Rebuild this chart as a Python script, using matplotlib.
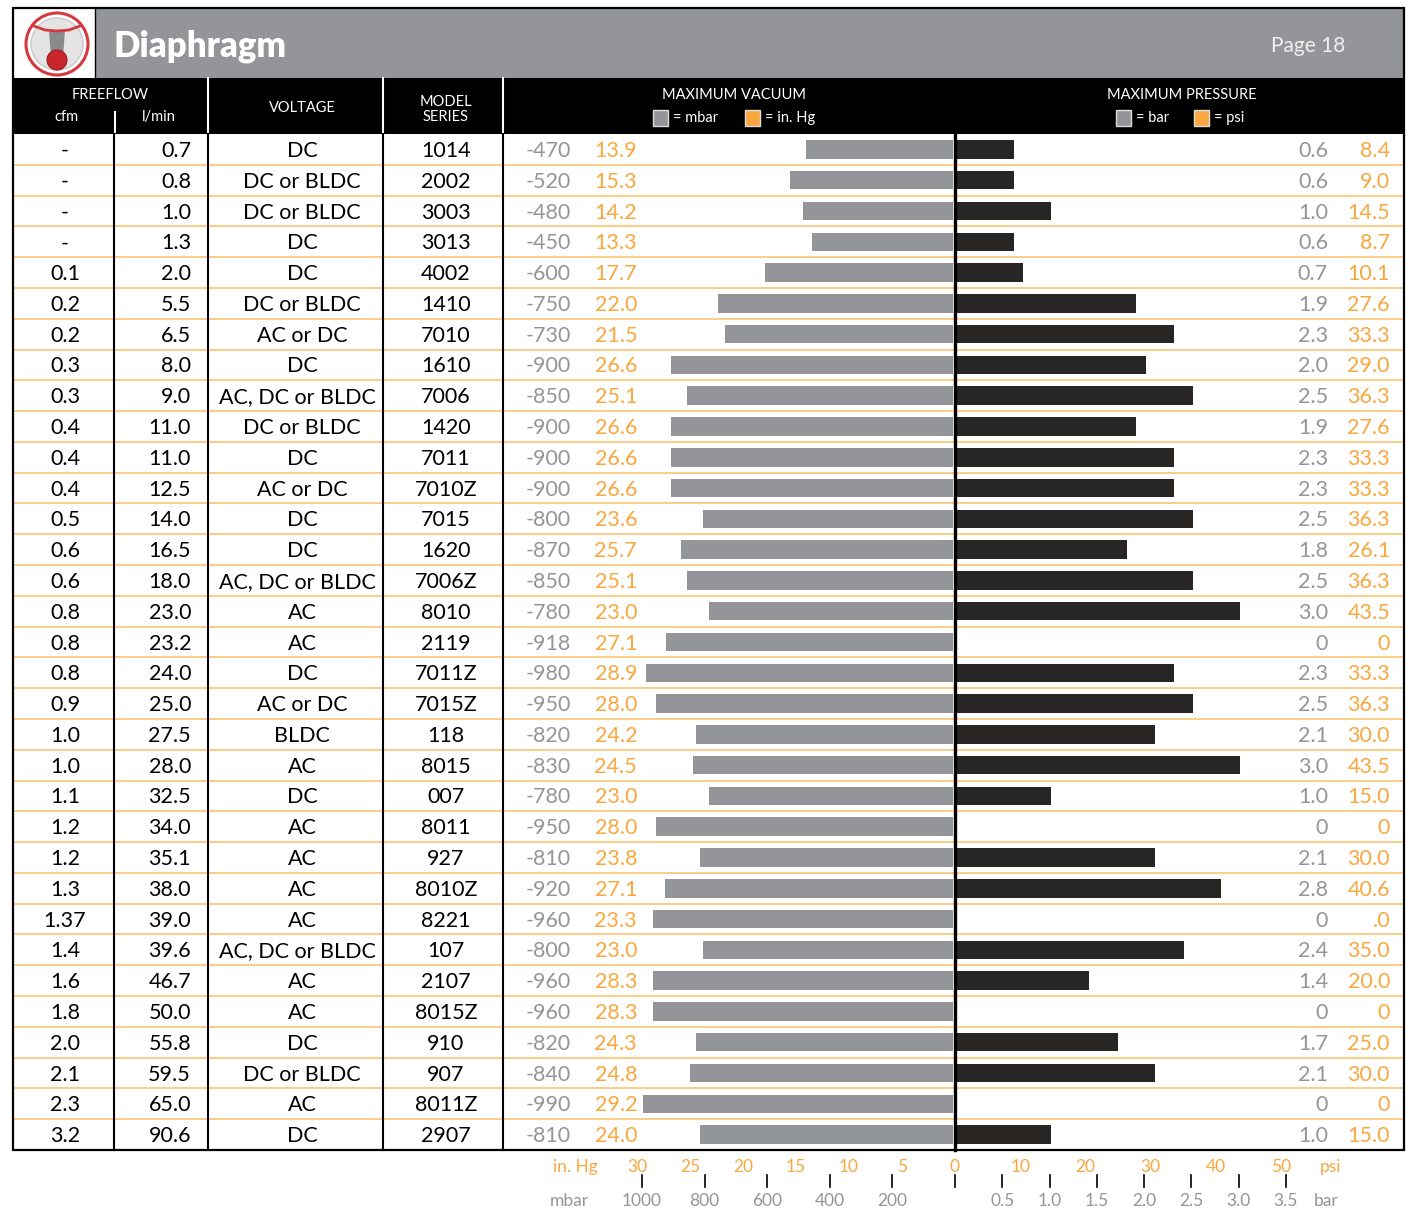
import matplotlib.pyplot as plt
from matplotlib.patches import Rectangle, Circle, Polygon
from matplotlib.transforms import blended_transform_factory

# table data, one entry per pump row
cfm = ["-", "-", "-", "-", "0.1", "0.2", "0.2", "0.3", "0.3", "0.4", "0.4", "0.4",
       "0.5", "0.6", "0.6", "0.8", "0.8", "0.8", "0.9", "1.0", "1.0", "1.1", "1.2",
       "1.2", "1.3", "1.37", "1.4", "1.6", "1.8", "2.0", "2.1", "2.3", "3.2"]
lpm = ["0.7", "0.8", "1.0", "1.3", "2.0", "5.5", "6.5", "8.0", "9.0", "11.0", "11.0",
       "12.5", "14.0", "16.5", "18.0", "23.0", "23.2", "24.0", "25.0", "27.5", "28.0",
       "32.5", "34.0", "35.1", "38.0", "39.0", "39.6", "46.7", "50.0", "55.8", "59.5",
       "65.0", "90.6"]
voltage = ["DC", "DC or BLDC", "DC or BLDC", "DC", "DC", "DC or BLDC", "AC or DC", "DC",
           "AC, DC or BLDC", "DC or BLDC", "DC", "AC or DC", "DC", "DC", "AC, DC or BLDC",
           "AC", "AC", "DC", "AC or DC", "BLDC", "AC", "DC", "AC", "AC", "AC", "AC",
           "AC, DC or BLDC", "AC", "AC", "DC", "DC or BLDC", "AC", "DC"]
model = ["1014", "2002", "3003", "3013", "4002", "1410", "7010", "1610", "7006", "1420",
         "7011", "7010Z", "7015", "1620", "7006Z", "8010", "2119", "7011Z", "7015Z", "118",
         "8015", "007", "8011", "927", "8010Z", "8221", "107", "2107", "8015Z", "910",
         "907", "8011Z", "2907"]
vac_mbar = ["-470", "-520", "-480", "-450", "-600", "-750", "-730", "-900", "-850", "-900",
            "-900", "-900", "-800", "-870", "-850", "-780", "-918", "-980", "-950", "-820",
            "-830", "-780", "-950", "-810", "-920", "-960", "-800", "-960", "-960", "-820",
            "-840", "-990", "-810"]
vac_inhg = ["13.9", "15.3", "14.2", "13.3", "17.7", "22.0", "21.5", "26.6", "25.1", "26.6",
            "26.6", "26.6", "23.6", "25.7", "25.1", "23.0", "27.1", "28.9", "28.0", "24.2",
            "24.5", "23.0", "28.0", "23.8", "27.1", "23.3", "23.0", "28.3", "28.3", "24.3",
            "24.8", "29.2", "24.0"]
press_bar = ["0.6", "0.6", "1.0", "0.6", "0.7", "1.9", "2.3", "2.0", "2.5", "1.9", "2.3",
             "2.3", "2.5", "1.8", "2.5", "3.0", "0", "2.3", "2.5", "2.1", "3.0", "1.0", "0",
             "2.1", "2.8", "0", "2.4", "1.4", "0", "1.7", "2.1", "0", "1.0"]
press_psi = ["8.4", "9.0", "14.5", "8.7", "10.1", "27.6", "33.3", "29.0", "36.3", "27.6",
             "33.3", "33.3", "36.3", "26.1", "36.3", "43.5", "0", "33.3", "36.3", "30.0",
             "43.5", "15.0", "0", "30.0", "40.6", ".0", "35.0", "20.0", "0", "25.0", "30.0",
             "0", "15.0"]

mbar_ticks = [1000, 800, 600, 400, 200]
inhg_ticks = [30, 25, 20, 15, 10, 5, 0]
bar_ticks = [0.5, 1.0, 1.5, 2.0, 2.5, 3.0, 3.5]
psi_ticks = [10, 20, 30, 40, 50]

GRAY = '#939598'
DARK = '#282625'
ORANGE = '#f9a73e'
LINE_OR = '#fcc36f'
RED = '#d3393f'

plt.rcParams['font.family'] = ['Lato', 'DejaVu Sans']

W, H = 1406, 1211
fig = plt.figure(figsize=(W / 100, H / 100), dpi=100)

TOP, BOT = 134, 1150
L, R, MID = 13, 1404, 955
n = len(model)
pitch = (BOT - TOP) / n

bg = fig.add_axes([0, 0, 1, 1])
bg.set_xlim(0, W)
bg.set_ylim(H, 0)
bg.axis('off')

""" title band """
bg.add_patch(Rectangle((95, 9), R - 95, 69, color=GRAY, lw=0))
bg.add_patch(Rectangle((L, 8), R - L, BOT - 8, fill=False, ec='black', lw=1.6, zorder=5))
bg.plot([95, 95], [9, 78], color='black', lw=1)
# logo
bg.add_patch(Circle((57, 44), 31, fc='white', ec=RED, lw=2.2))
bg.add_patch(Circle((57, 44), 26, fc='#e4e4e4', ec='#c9c9c9', lw=1))
bg.add_patch(Polygon([[49, 30], [65, 30], [63, 58], [51, 58]], fc='#8a8a8a', ec='none'))
bg.add_patch(Circle((57, 60), 10, fc='#c9252c', ec='#9a1b20', lw=0.8))
bg.plot([34, 45, 57, 69, 80], [26, 30, 31, 30, 26], color=RED, lw=2)
bg.text(114, 46, 'Diaphragm', color='white', fontsize=25, fontweight='heavy', va='center')
bg.text(1345, 46, 'Page 18', color='#f0f0f0', fontsize=15, va='center', ha='right')

""" black column header """
bg.add_patch(Rectangle((L, 78), R - L, TOP - 78, color='black', lw=0))
for x in [208, 383, 503]:
    bg.plot([x, x], [78, TOP], color='white', lw=1.5)
bg.plot([115, 115], [112, TOP - 2], color='white', lw=1.5)
hs = 10.5
bg.text(110, 95, 'FREEFLOW', color='white', fontsize=hs, ha='center', va='center')
bg.text(66, 117, 'cfm', color='white', fontsize=hs, ha='center', va='center')
bg.text(159, 117, 'l/min', color='white', fontsize=hs, ha='center', va='center')
bg.text(302, 108, 'VOLTAGE', color='white', fontsize=hs, ha='center', va='center')
bg.text(446, 102, 'MODEL', color='white', fontsize=hs, ha='center', va='center')
bg.text(446, 117, 'SERIES', color='white', fontsize=hs, ha='center', va='center')
bg.text(734, 95, 'MAXIMUM VACUUM', color='white', fontsize=hs, ha='center', va='center')
bg.text(1182, 95, 'MAXIMUM PRESSURE', color='white', fontsize=hs, ha='center', va='center')
for x0, col, lab in [(653, GRAY, '= mbar'), (745, ORANGE, '= in. Hg'),
                     (1116, GRAY, '= bar'), (1194, ORANGE, '= psi')]:
    bg.add_patch(Rectangle((x0, 110), 15, 16, fc=col, ec='#dddddd', lw=1))
    bg.text(x0 + 20, 118, lab, color='white', fontsize=hs, va='center')

""" body grid """
for k in range(1, n):
    y = TOP + k * pitch
    bg.plot([L, R], [y, y], color=LINE_OR, lw=1.2, zorder=1)
for x in [114, 208, 383, 503]:
    bg.plot([x, x], [TOP, BOT], color='black', lw=1.5, zorder=2)

fs = 15.5
for i in range(n):
    y = TOP + (i + 0.55) * pitch
    bg.text(65, y, cfm[i], fontsize=fs, ha='center', va='center')
    bg.text(191, y, lpm[i], fontsize=fs, ha='right', va='center')
    vx = 297 if len(voltage[i]) > 12 else 302
    bg.text(vx, y, voltage[i], fontsize=fs, ha='center', va='center')
    bg.text(446, y, model[i], fontsize=fs, ha='center', va='center')
    bg.text(571, y, vac_mbar[i], fontsize=fs, ha='right', va='center', color=GRAY)
    bg.text(637, y, vac_inhg[i], fontsize=fs, ha='right', va='center', color=ORANGE)
    bg.text(1328, y, press_bar[i], fontsize=fs, ha='right', va='center', color=GRAY)
    bg.text(1390, y, press_psi[i], fontsize=fs, ha='right', va='center', color=ORANGE)

""" bar axes """
px_mbar = 0.313
px_bar = 94.5
axw = lambda x: x / W
axh = lambda y: 1 - y / H
vac = fig.add_axes([axw(503), axh(BOT), axw(MID - 503), (BOT - TOP) / H])
vac.set_xlim((MID - 503) / px_mbar, 0)
press = fig.add_axes([axw(MID), axh(BOT), axw(R - MID), (BOT - TOP) / H])
press.set_xlim(0, (R - MID) / px_bar)
for a in (vac, press):
    a.set_ylim(n - 0.5, -0.5)
    a.axis('off')
    a.patch.set_alpha(0)

rows = list(range(n))
vac.barh(rows, [abs(float(v)) for v in vac_mbar], height=0.6, color=GRAY, left=6)
press.barh(rows, [float(v) for v in press_bar], height=0.6, color=DARK, left=0.02)
press.axvline(0, color='black', lw=2.4, clip_on=False)

""" bottom scales """
tv = blended_transform_factory(vac.transData, bg.transData)
tp = blended_transform_factory(press.transData, bg.transData)
for t in mbar_ticks + [0]:
    bg.plot([t, t], [1175, 1187], transform=tv, color='black', lw=1.2)
for t in mbar_ticks:
    bg.text(t, 1201, str(t), transform=tv, color=GRAY, fontsize=12.5, ha='center', va='center')
for t in inhg_ticks:
    bg.text(t * 33.864, 1167, str(t), transform=tv, color=ORANGE, fontsize=12.5,
            ha='center', va='center')
for t in bar_ticks:
    bg.plot([t, t], [1175, 1187], transform=tp, color='black', lw=1.2)
    bg.text(t, 1201, '%.1f' % t, transform=tp, color=GRAY, fontsize=12.5, ha='center', va='center')
for t in psi_ticks:
    bg.text(t / 14.504, 1167, str(t), transform=tp, color=ORANGE, fontsize=12.5,
            ha='center', va='center')
bg.text(575, 1167, 'in. Hg', color=ORANGE, fontsize=12.5, ha='center', va='center')
bg.text(569, 1201, 'mbar', color=GRAY, fontsize=12.5, ha='center', va='center')
bg.text(1330, 1167, 'psi', color=ORANGE, fontsize=12.5, ha='center', va='center')
bg.text(1326, 1201, 'bar', color=GRAY, fontsize=12.5, ha='center', va='center')

plt.savefig('out.png', dpi=100, facecolor='white')
